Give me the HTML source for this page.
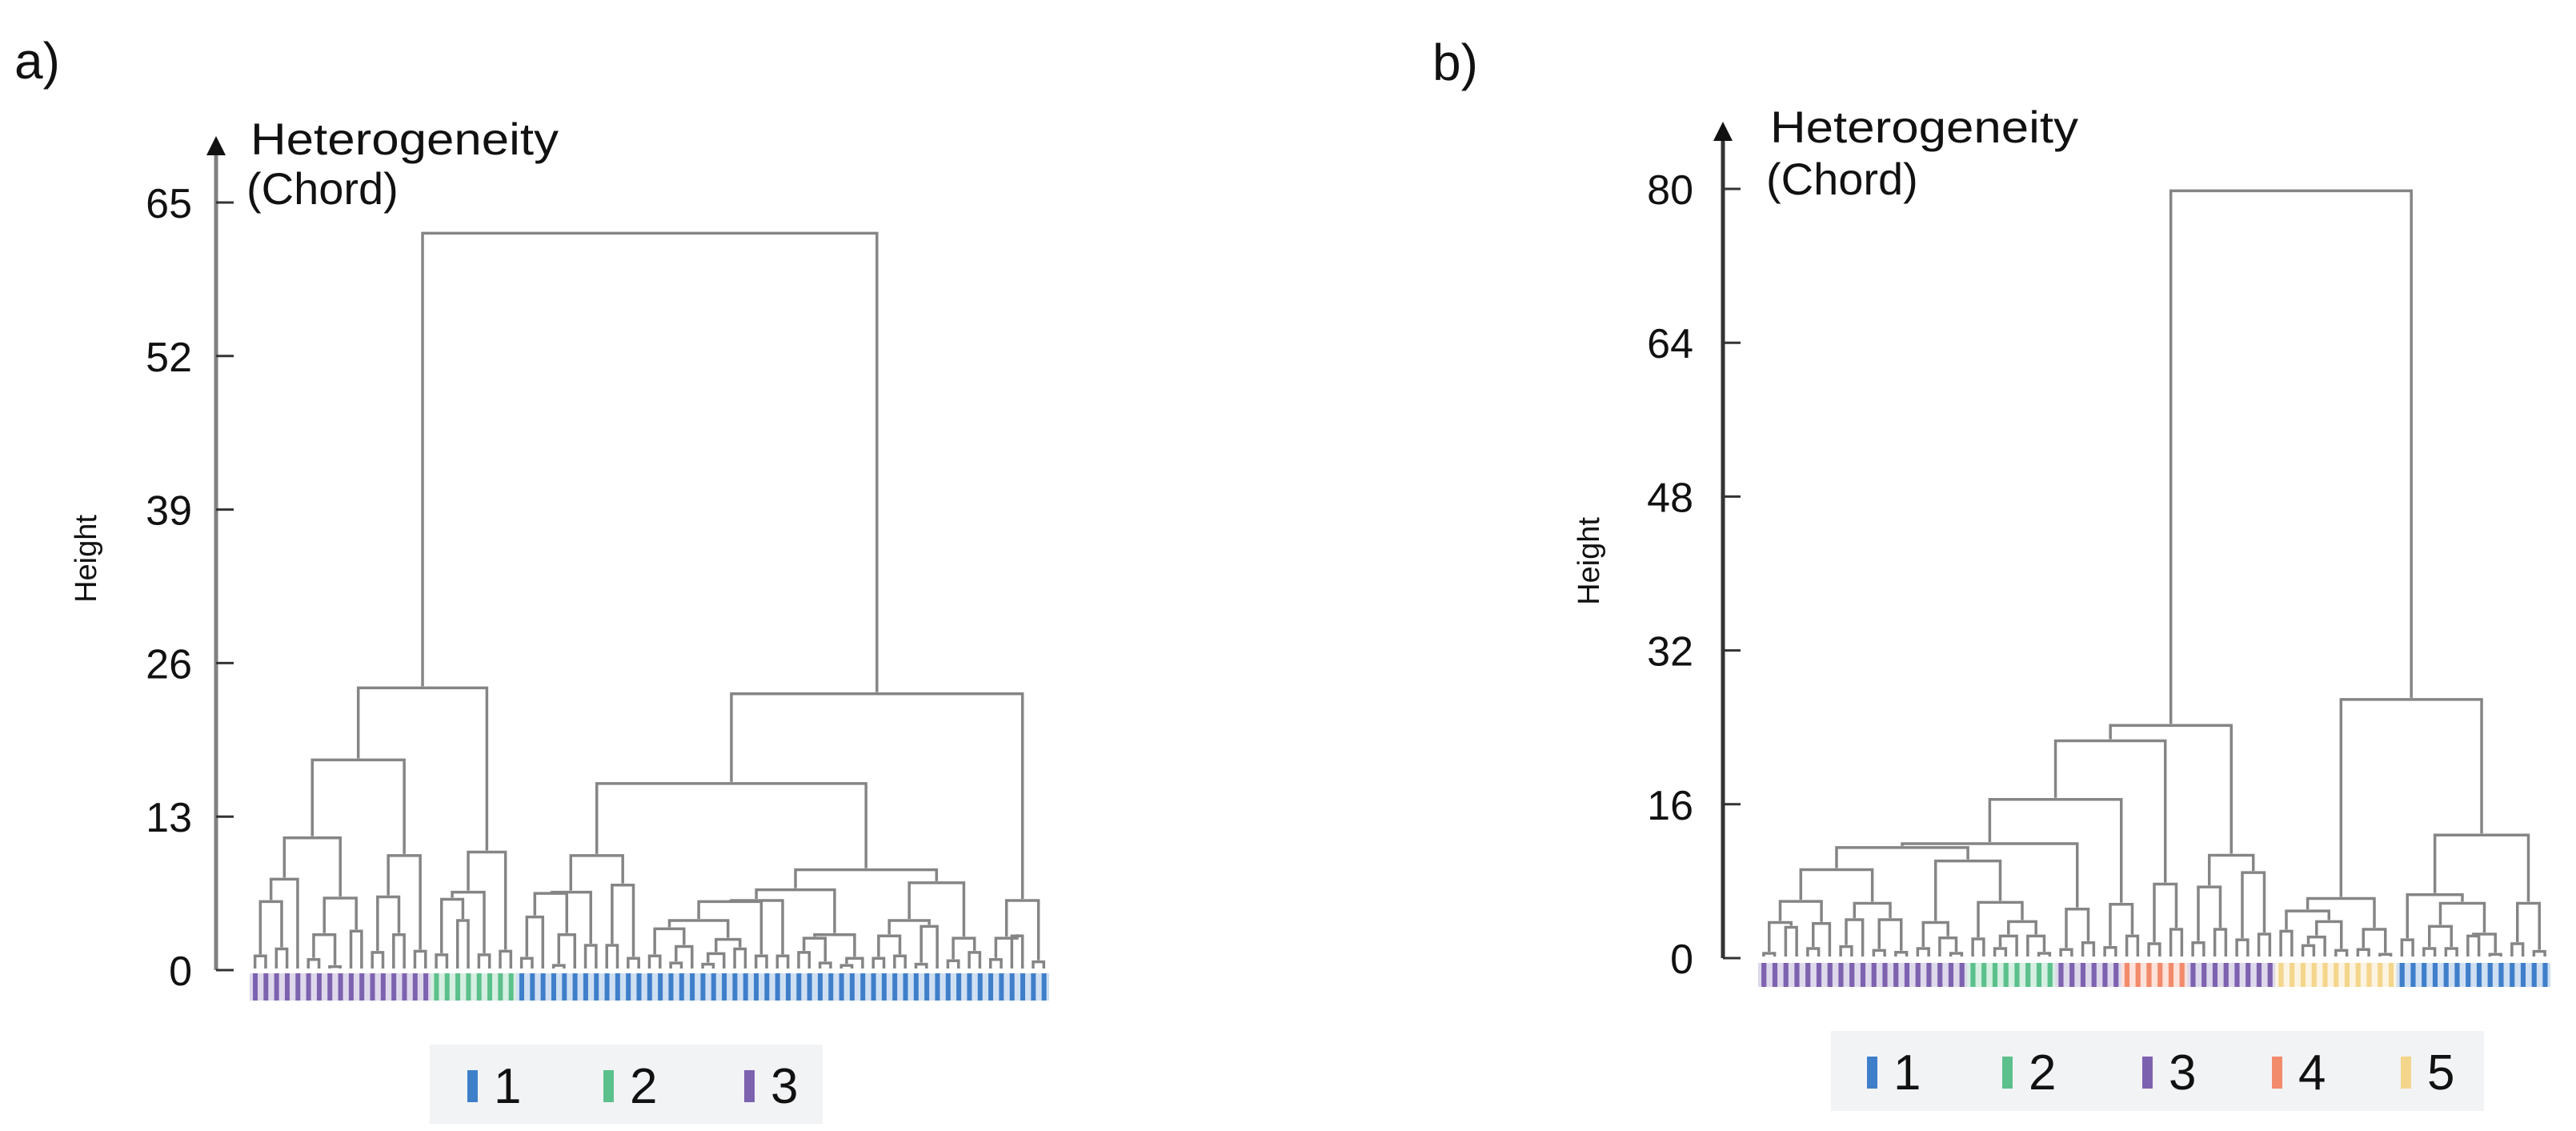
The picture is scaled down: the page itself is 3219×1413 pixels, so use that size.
<!DOCTYPE html>
<html>
<head>
<meta charset="utf-8">
<style>
html,body{margin:0;padding:0;background:#fff;}
svg{display:block;font-family:"Liberation Sans",sans-serif;}
</style>
</head>
<body>
<svg id="chart" width="3219" height="1413" viewBox="0 0 3219 1413" xmlns="http://www.w3.org/2000/svg">
  <g id="panelA">
    <text x="18" y="98" font-size="64" fill="#111">a)</text>
    <text x="313" y="193" font-size="56" textLength="385" lengthAdjust="spacingAndGlyphs" fill="#111">Heterogeneity</text>
    <text x="308" y="255" font-size="56" fill="#111">(Chord)</text>
    <text transform="translate(120,698) rotate(-90)" text-anchor="middle" font-size="38" fill="#111">Height</text>
    <rect x="537" y="1305" width="491" height="99" fill="#f2f3f5"/>
  </g>
  <g id="panelB">
    <text x="1790" y="100" font-size="64" fill="#111">b)</text>
    <text x="2212" y="178" font-size="56" textLength="385" lengthAdjust="spacingAndGlyphs" fill="#111">Heterogeneity</text>
    <text x="2207" y="243" font-size="56" fill="#111">(Chord)</text>
    <text transform="translate(1998,701) rotate(-90)" text-anchor="middle" font-size="38" fill="#111">Height</text>
    <rect x="2288" y="1288" width="816" height="100" fill="#f2f3f5"/>
  </g>
</svg>
<script>
const L = null;
// ---- Panel a data ----
const ticksA = [0, 13, 26, 39, 52, 65];
const purpleA = [17.8, [11.2, [7.7, [5.8, [1.2, L, L], [1.8, L, L]], L], [6.1, [3.0, [0.9, L, L], [0.3, L, L]], [3.3, L, L]]], [9.7, [6.2, [1.5, L, L], [3.0, L, L]], [1.6, L, L]]];
const greenA = [10.0, [6.6, [6.0, [1.3, L, L], [4.2, L, L]], [1.3, L, L]], [1.6, L, L]];
const blueA1 = [9.7, [6.6, [6.5, [4.5, [1.0, L, L], L], [3.0, [0.4, L, L], L]], [2.1, L, L]], [7.2, [2.1, L, L], [1.0, L, L]]];
const blueA2 = [6.8, [5.9, [5.8, [4.2, [3.5, [1.2, L, L], [2.0, [0.6, L, L], L]], [2.6, [1.4, [0.5, L, L], L], [1.8, L, L]]], [1.2, L, L]], [1.2, L, L]], [3.0, [2.7, [1.5, L, L], [0.6, L, L]], [1.0, [0.4, L, L], L]]];
const blueA3 = [7.4, [4.2, [2.9, [1.0, L, L], [1.2, L, L]], [3.7, [0.5, L, L], L]], [2.7, [0.8, L, L], [1.5, L, L]]];
const blueA4 = [5.9, [2.7, [0.9, L, L], [2.9, L, L]], [0.7, L, L]];
const treeA = [62.4, [23.9, purpleA, greenA], [23.4, [15.8, blueA1, [8.5, blueA2, blueA3]], blueA4]];
const leafGroupsA = [[3, 17], [2, 8], [1, 50]];
const legendA = ["1", "2", "3"];

// ---- Panel b data ----
const ticksB = [0, 16, 32, 48, 64, 80];
const q1a = [5.9, [3.7, [0.5, L, L], [3.2, L, L]], [3.6, [1.0, L, L], L]];
const q1b = [5.7, [4.0, [1.2, L, L], L], [4.0, [0.8, L, L], [0.6, L, L]]];
const q2 = [3.7, [1.0, L, L], [2.1, L, [0.5, L, L]]];
const g2 = [5.8, [2.0, L, L], [3.8, [2.3, [1.0, L, L], L], [2.3, L, [0.5, L, L]]]];
const p2a = [5.1, [0.9, L, L], [1.6, L, L]];
const n965 = [5.6, [1.1, L, L], [2.3, L, L]];
const n1022 = [7.7, [1.5, L, L], [3.0, L, L]];
const n1110 = [10.7, [7.4, [1.6, L, L], [3.0, L, L]], [8.9, [1.9, L, L], [2.5, L, L]]];
const yellowB = [6.2, [4.9, [2.8, L, L], [3.8, [2.2, [1.3, L, L], L], [0.8, L, L]]], [3.0, [0.9, L, L], [0.4, L, L]]];
const blueB = [12.8, [6.6, [1.9, L, L], [5.7, [3.3, [1.0, L, L], [1.0, L, L]], [2.5, [2.3, L, L], [0.4, L, L]]]], [5.7, [1.5, L, L], [0.7, L, L]]];
const treeB = [79.8, [24.2, [22.6, [16.5, [11.9, [11.5, [9.2, q1a, q1b], [10.1, q2, g2]], p2a], n965], n1022], n1110], [26.9, yellowB, blueB]];
const leafGroupsB = [[3, 19], [2, 8], [3, 6], [4, 6], [3, 8], [5, 11], [1, 14]];
const legendB = ["1", "2", "3", "4", "5"];

const COLORS = {1: "#3f7fca", 2: "#5cc08c", 3: "#7d62b0", 4: "#f28a6c", 5: "#f4d58c"};
const NS = "http://www.w3.org/2000/svg";

function mk(parent, tag, attrs) {
  const e = document.createElementNS(NS, tag);
  for (const k in attrs) e.setAttribute(k, attrs[k]);
  parent.appendChild(e);
  return e;
}

function countLeaves(n) { return n === null ? 1 : countLeaves(n[1]) + countLeaves(n[2]); }

function drawPanel(cfg) {
  const g = document.getElementById(cfg.id);
  const yScale = v => cfg.y0 - (v / cfg.vmax) * (cfg.y0 - cfg.yTop);
  const axis = mk(g, "line", {x1: cfg.ax, y1: cfg.y0, x2: cfg.ax, y2: cfg.arrowY + 22, stroke: cfg.axisColor, "stroke-width": 5});
  
  
  const arrow = mk(g, "polygon", {points: `${cfg.ax - 12},${cfg.arrowY + 24} ${cfg.ax + 12},${cfg.arrowY + 24} ${cfg.ax},${cfg.arrowY}`, fill: "#111"});
  
  
  cfg.ticks.forEach(t => {
    const y = yScale(t);
    const tk = mk(g, "line", {x1: cfg.ax, y1: y, x2: cfg.ax + 22, y2: y, stroke: "#333", "stroke-width": 3});
    
    
    const tx = mk(g, "text", {x: cfg.labelRight, y: y + 19, "text-anchor": "end", "font-size": 52, fill: "#111"});
    tx.textContent = t;
    
    
  });
  const n = countLeaves(cfg.tree);
  const w = (cfg.x1 - cfg.x0) / n;
  let idx = 0;
  const branches = mk(g, "g", {stroke: "#858585", "stroke-width": 3.5, fill: "none"});
  
  
  function layout(node) {
    if (node === null) {
      const x = cfg.x0 + (idx + 0.5) * w;
      idx++;
      return {x: x, h: 0};
    }
    const a = layout(node[1]);
    const b = layout(node[2]);
    const y = yScale(node[0]);
    const p = mk(branches, "path", {d: `M${a.x},${yScale(a.h) - 2}V${y}H${b.x}V${yScale(b.h) - 2}`});
    
    
    return {x: (a.x + b.x) / 2, h: node[0]};
  }
  layout(cfg.tree);
  let li = 0;
  cfg.groups.forEach(gr => {
    for (let k = 0; k < gr[1]; k++) {
      const x = cfg.x0 + li * w;
      const bg = mk(g, "rect", {x: x, y: cfg.sy, width: w, height: cfg.sh, fill: COLORS[gr[0]], opacity: 0.25});
      
      
      const r = mk(g, "rect", {x: x + w * 0.3, y: cfg.sy, width: w * 0.45, height: cfg.sh, fill: COLORS[gr[0]]});
      
      
      li++;
    }
  });
  cfg.legend.forEach((lab, i) => {
    const lx = cfg.legX[i];
    const sw = mk(g, "rect", {x: lx, y: cfg.legY, width: 13, height: 40, fill: COLORS[+lab]});
    
    
    const t = mk(g, "text", {x: lx + 33, y: cfg.legY + 41, "font-size": 62, fill: "#111"});
    t.textContent = lab;
    
    
  });
}

drawPanel({id: "panelA", tree: treeA, ticks: ticksA, vmax: 65, y0: 1212, yTop: 253, ax: 270, arrowY: 170,
  axisColor: "#808080", labelRight: 240, x0: 312, x1: 1311, sy: 1216, sh: 34, groups: leafGroupsA,
  legend: legendA, legX: [584, 754, 930], legY: 1337});
drawPanel({id: "panelB", tree: treeB, ticks: ticksB, vmax: 80, y0: 1197, yTop: 236, ax: 2153, arrowY: 152,
  axisColor: "#333", labelRight: 2116, x0: 2197, x1: 3187, sy: 1203, sh: 30, groups: leafGroupsB,
  legend: legendB, legX: [2333, 2502, 2677, 2839, 3000], legY: 1320});
</script>
</body>
</html>
